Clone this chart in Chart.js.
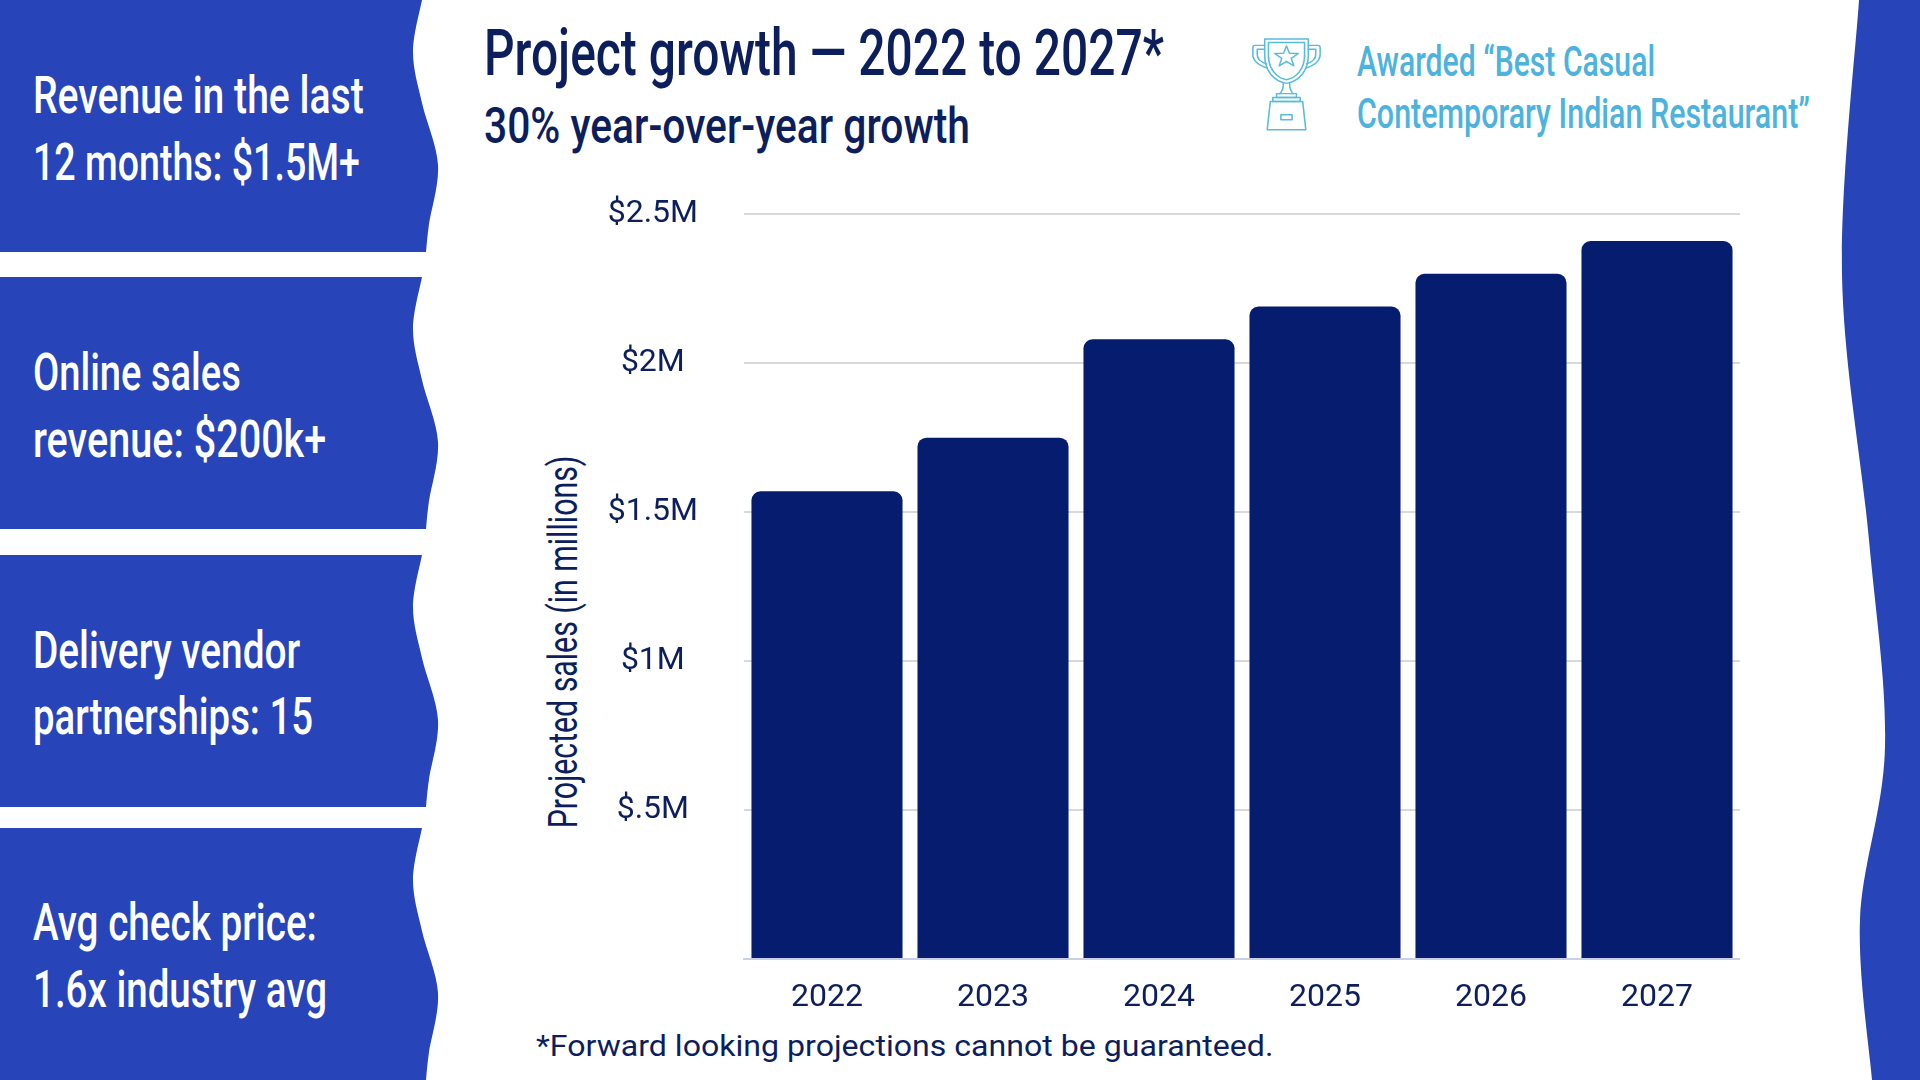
<!DOCTYPE html>
<html>
<head>
<meta charset="utf-8">
<title>Project growth</title>
<script src="https://cdn.jsdelivr.net/npm/chart.js@4.4.1/dist/chart.umd.min.js"></script>
<style>
html, body { margin: 0; padding: 0; }
body { width: 1920px; height: 1080px; position: relative; overflow: hidden; background: #fff; }
#shapes { position: absolute; left: 0; top: 0; }
.t { position: absolute; white-space: nowrap; line-height: 1; transform-origin: 0 0;
     font-family: Roboto, 'Noto Sans', sans-serif; font-weight: 500; }
.navy { color: #0c1e5c; }
.panel { color: #fff; font-size: 52px; left: 33px; }
.award { color: #4db3dd; font-size: 42px; left: 1357px; }
#ytitle { font-size: 40px; font-weight: 400; transform-origin: 50% 50%; left: 564px; top: 642px; }
#note { font-weight: 400; font-size: 30px; left: 536px; top: 1031px; }
#chart { position: absolute; left: 573px; top: 149px; width: 1167px; height: 880px; }
#trophy { position: absolute; left: 1251px; top: 37px; }
</style>
</head>
<body>

<svg id="shapes" width="1920" height="1080">
  <defs>
    <path id="panelShape" d="M0,0 L422,0 C420.5,8.7 413,34.8 413,52 C413,69.2 417.8,84.2 422,103 C426.2,121.8 436.8,144.8 438,165 C439.2,185.2 431,209.5 429,224 C427,238.5 426.5,247.3 426,252 L0,252 Z"/>
  </defs>
  <use href="#panelShape" fill="#2744b8" transform="translate(0,0)"/>
  <use href="#panelShape" fill="#2744b8" transform="translate(0,277)"/>
  <use href="#panelShape" fill="#2744b8" transform="translate(0,555)"/>
  <use href="#panelShape" fill="#2744b8" transform="translate(0,828)"/>
  <path fill="#2744b8" d="M1920,0 L1859,0 C1856.2,45.8 1840.3,185 1842,275 C1843.7,365 1861.8,461.3 1869,540 C1876.2,618.7 1886.5,683.8 1885,747 C1883.5,810.2 1862.2,863.5 1860,919 C1857.8,974.5 1870,1053.2 1872,1080 L1920,1080 Z"/>
</svg>

<svg id="trophy" width="71" height="95" viewBox="36 38 228 342" preserveAspectRatio="none"
     fill="none" stroke="#58bcdc" stroke-linejoin="round" stroke-linecap="round">
  <g vector-effect="non-scaling-stroke" stroke-width="5">
    <path d="M80,45 H220 V105 C220,160 190,198 150,205 C110,198 80,160 80,105 Z"/>
    <path d="M92,58 H208 V105 C208,152 182,186 150,192 C118,186 92,152 92,105 Z"/>
    <path d="M80,68 H48 C44,68 42,72 42,76 V100 C42,125 60,140 88,150"/>
    <path d="M80,82 H56 V100 C56,118 68,128 86,135"/>
    <path d="M220,68 H252 C256,68 258,72 258,76 V100 C258,125 240,140 212,150"/>
    <path d="M220,82 H244 V100 C244,118 232,128 214,135"/>
    <path d="M150,70 L159.5,97 L188,97.6 L165.3,115 L173.5,142 L150,126 L126.5,142 L134.7,115 L112,97.6 L140.5,97 Z"/>
    <path d="M140,205 C140,220 138,232 128,242 M160,205 C160,220 162,232 172,242"/>
    <path d="M118,242 H182 V256 H118 Z"/>
    <path d="M106,256 H194 V270 H106 Z"/>
    <path d="M98,270 H202 L212,372 H88 Z"/>
    <path d="M132,318 H168 V336 H132 Z"/>
  </g>
</svg>

<div class="t panel" style="top:70px" data-w="331">Revenue in the last</div>
<div class="t panel" style="top:137px" data-w="327">12 months: $1.5M+</div>
<div class="t panel" style="top:347px" data-w="208">Online sales</div>
<div class="t panel" style="top:414px" data-w="293">revenue: $200k+</div>
<div class="t panel" style="top:625px" data-w="267">Delivery vendor</div>
<div class="t panel" style="top:691px" data-w="280">partnerships: 15</div>
<div class="t panel" style="top:897px" data-w="284">Avg check price:</div>
<div class="t panel" style="top:964px" data-w="294">1.6x industry avg</div>

<div class="t navy" style="left:484px; top:22px; font-size:64px" data-w="680">Project growth — 2022 to 2027*</div>
<div class="t navy" style="left:484px; top:101px; font-size:50px" data-w="486">30% year-over-year growth</div>

<div class="t award" style="top:41px" data-w="298">Awarded “Best Casual</div>
<div class="t award" style="top:93px" data-w="453">Contemporary Indian Restaurant”</div>

<div class="t navy" id="ytitle" data-w="373" data-rot="1">Projected sales (in millions)</div>
<div class="t navy" id="note" data-w="737">*Forward looking projections cannot be guaranteed.</div>

<canvas id="chart" width="1167" height="880"></canvas>

<script>
var years = ['2022', '2023', '2024', '2025', '2026', '2027'];
var sales = [1.57, 1.75, 2.08, 2.19, 2.30, 2.41];
var yTickLabels = ['', '$.5M', '$1M', '$1.5M', '$2M', '$2.5M'];

var navy = '#0c1e5c';
var tickFont = { family: "Roboto, 'Noto Sans', sans-serif", size: 32, weight: 400 };

// squeeze the texts to the widths they have in the slide (its font is a narrow one)
function fitTexts() {
  document.querySelectorAll('[data-w]').forEach(function(el) {
    var s = +el.dataset.w / el.offsetWidth;
    if (el.dataset.rot) {
      el.style.transform = 'translate(-50%,-50%) rotate(-90deg) scaleX(' + s + ')';
    } else {
      el.style.transform = 'scaleX(' + s + ')';
    }
  });
}
fitTexts();

var ctx = document.getElementById('chart');
var barChart = new Chart(ctx, {
  type: 'bar',
  data: {
    labels: years,
    datasets: [{
      label: 'Projected sales',
      data: sales,
      backgroundColor: '#061c6e',
      borderRadius: 9,
      borderSkipped: 'start',
      barPercentage: 0.91,
      categoryPercentage: 1
    }]
  },
  options: {
    responsive: false,
    animation: false,
    devicePixelRatio: 1,
    layout: { padding: { top: 56, right: 0, bottom: 0, left: 0 } },
    plugins: {
      legend: { display: false },
      tooltip: { enabled: false }
    },
    scales: {
      x: {
        grid: { display: false, drawTicks: false },
        border: { display: true, color: '#c8d0e8', width: 2 },
        ticks: { color: navy, padding: 20, font: tickFont },
        afterFit: function(scale) { scale.height = 70; }
      },
      y: {
        min: 0,
        max: 2.5,
        grid: { color: '#d9d9dc', lineWidth: 2, drawTicks: false },
        border: { display: false },
        ticks: {
          stepSize: 0.5,
          color: navy,
          padding: 46,
          crossAlign: 'center',
          font: tickFont,
          callback: function(value, index) { return yTickLabels[index]; }
        },
        afterFit: function(scale) { scale.width = 171; }
      }
    }
  }
});

// put the plot box where it sits on the slide: top 209, bottom 959 (page px)
var area = barChart.chartArea;
var canvasTop = 149;
var wantTop = 209 - canvasTop;
if (Math.abs(area.top - wantTop) > 0.5) {
  barChart.options.layout.padding.top += wantTop - area.top;
  barChart.update();
}

if (document.fonts && document.fonts.ready) {
  document.fonts.ready.then(function() { fitTexts(); });
}
</script>
</body>
</html>
